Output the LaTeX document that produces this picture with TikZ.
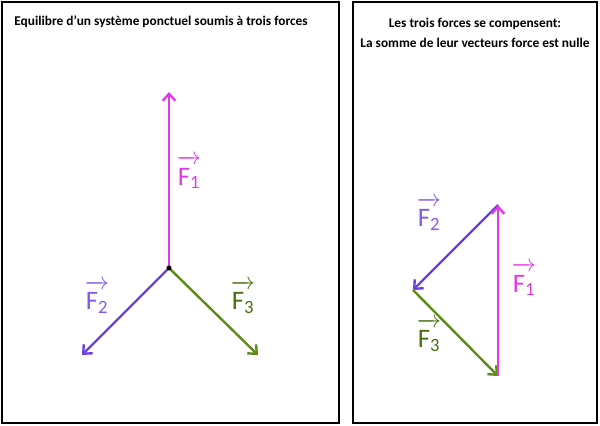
\documentclass[tikz,border=0pt]{standalone}
\usepackage{amsmath}
\usepackage{fontspec}
\setmainfont{Carlito}
\usetikzlibrary{arrows.meta,positioning}

\definecolor{rose}{RGB}{228,58,228}
\definecolor{violet}{RGB}{108,62,228}
\definecolor{olive}{RGB}{92,140,22}
\newcommand{\vecF}[1]{$\overrightarrow{\rule{0pt}{0.78em}\text{F}_{\text{#1}}}$}

\begin{document}
\begin{tikzpicture}[x=0.025cm,y=-0.025cm]
    \useasboundingbox (0,0) rectangle (600,426);

    % the two frames and their titles
    \begin{scope}[every node/.style={font=\bfseries\fontsize{9.5}{14}\selectfont,align=center}]
      \draw[line width=2pt] (2,2) rectangle (339,423);
      \draw[line width=2pt] (353,2) rectangle (597,423);
      \node (t1) at (161,22) {Equilibre d'un système ponctuel soumis à trois forces};
      \node (t2) at (475,33) {Les trois forces se compensent:\\La somme de leur vecteurs force est nulle};
    \end{scope}

    % points
    \coordinate (O) at (169,268);
    \coordinate (1) at (169,92);
    \coordinate (2) at (82,355);
    \coordinate (3) at (258,355);
    \coordinate (a) at (498,205);
    \coordinate (b) at (413,290);
    \coordinate (c) at (498,376);

    \begin{scope}[>={Straight Barb[length=5pt,width=9pt]},
        every path/.style={line width=1.7pt},
        every node/.style={font=\fontsize{19}{22}\selectfont,inner sep=0pt}]
      % forces applied at one point
      \draw [->,rose] (O) -- (1);
      \draw [->,violet] (O) -- (2);
      \draw [->,olive] (O) -- (3);
      \node [text=rose] (l1) at (189,172) {\vecF{1}};
      \node [text=violet!85] (l2) at (97,297) {\vecF{2}};
      \node [text=olive!80!black] (l3) at (243,297) {\vecF{3}};
      % closed triangle
      \draw [->,violet] (a) -- (b);
      \draw [->,olive] (b) -- (c);
      \draw [->,rose] (c) -- (a);
      \node [text=violet!85] (m2) at (429,214) {\vecF{2}};
      \node [text=rose] (m1) at (524,279) {\vecF{1}};
      \node [text=olive!80!black] (m3) at (429,335) {\vecF{3}};
    \end{scope}

    \fill (O) circle (2.5);
\end{tikzpicture}
\end{document}
